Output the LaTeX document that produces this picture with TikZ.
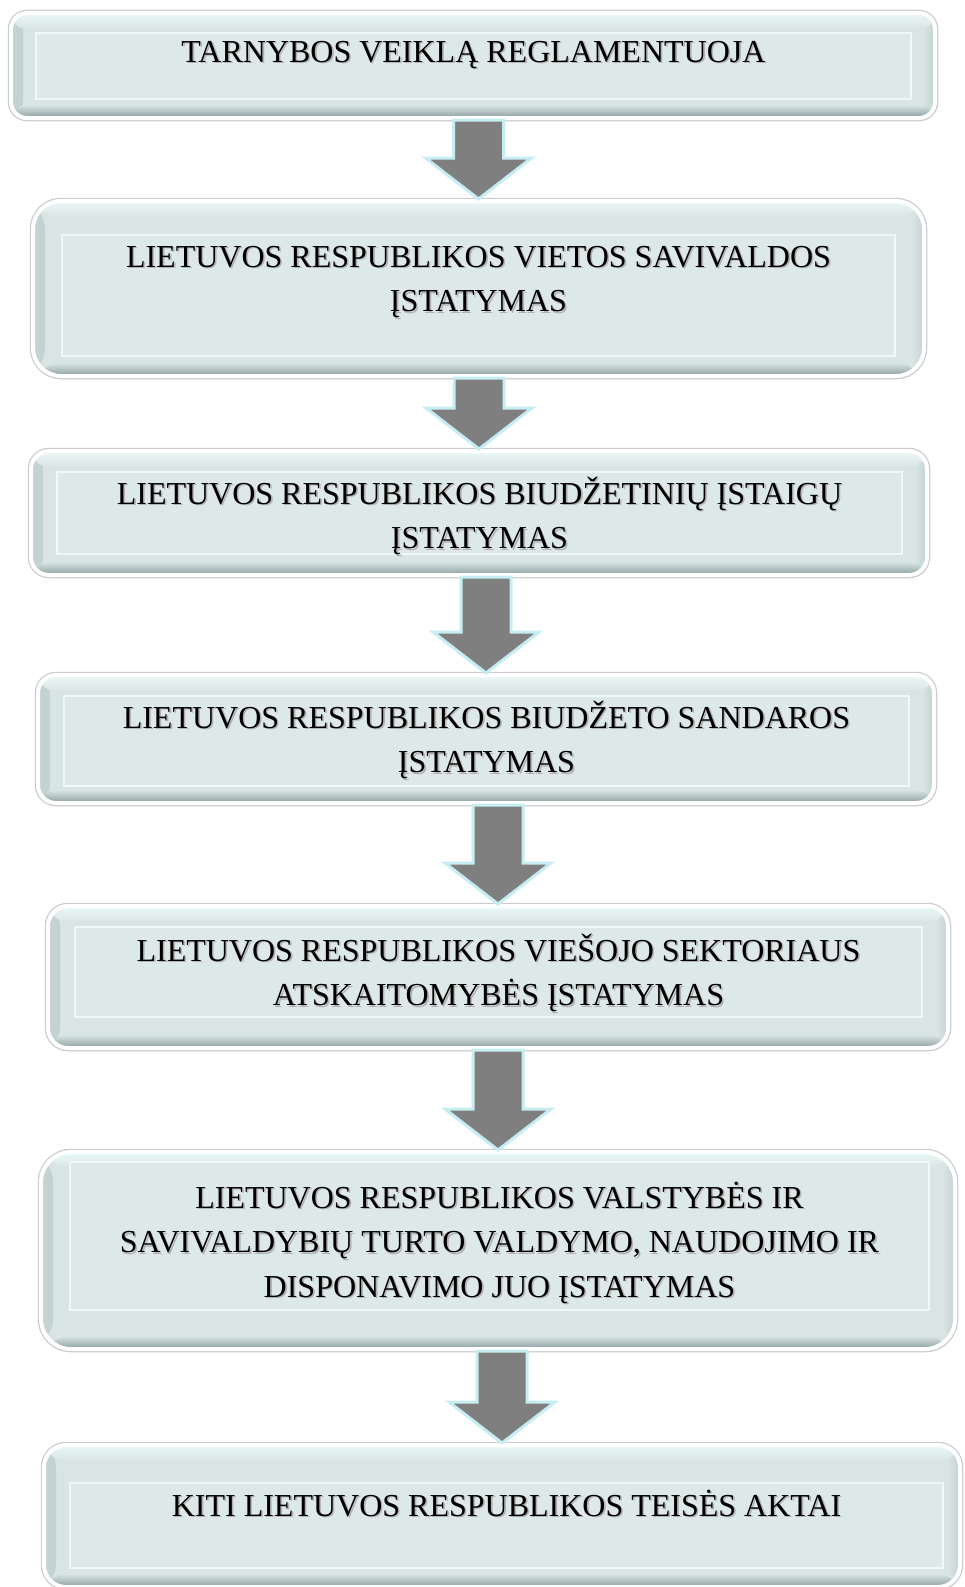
\documentclass[tikz,border=0pt]{standalone}
\usepackage{fontspec}
\setmainfont{Liberation Serif}
\usetikzlibrary{positioning, calc, shadows}

\definecolor{boxfill}{HTML}{D9E4E4}
\definecolor{boxtop}{HTML}{ECF9F9}
\definecolor{boxedge}{HTML}{8C9E9E}
\definecolor{boxside}{HTML}{C4D2D2}
\definecolor{framefill}{HTML}{DDE8E8}
\definecolor{frameline}{HTML}{EEF8F8}
\definecolor{arrgray}{HTML}{7F7F7F}
\definecolor{arrrim}{HTML}{C6EEF2}

% text with a soft shadow, as in the original
\newcommand{\shtext}[1]{\makebox[0pt][l]{\hspace{1.6pt}\raisebox{-1.6pt}{\color{black!30}#1}}#1}

\begin{document}
\begin{tikzpicture} [x = 1pt, y = -1pt,
    lawbox/.style = {rectangle, rounded corners = #1, draw = white, line width = 4pt, fill = boxfill,
        drop shadow = {opacity = 0.25, shadow xshift = 1.5pt, shadow yshift = -3pt},
        preaction = {draw = black!20, line width = 6.5pt},
        path picture = {
            \shade [left color = boxside, right color = boxfill] (path picture bounding box.south west) rectangle ([xshift = 12pt]path picture bounding box.north west);
            \shade [left color = boxfill, right color = boxside] ([xshift = -12pt]path picture bounding box.south east) rectangle (path picture bounding box.north east);
            \shade [top color = boxtop, bottom color = boxfill] (path picture bounding box.north west) rectangle ([yshift = -16pt]path picture bounding box.north east);
            \shade [top color = boxfill, bottom color = boxedge] ([yshift = 13pt]path picture bounding box.south west) rectangle (path picture bounding box.south east);
        }},
    lawbox/.default = 18pt,
    lawframe/.style = {rectangle, draw = frameline, line width = 1.2pt, fill = framefill},
    lawtext/.style = {inner sep = 0pt, align = center, font = \fontsize{32}{44.5}\selectfont},
    downarr/.style = {fill = arrgray, draw = arrrim, line width = 3pt, line join = miter,
        to path = {let \p1 = (\tikztostart.south), \p2 = (\tikztotarget.north) in
            (\x2-25pt,\y1) -- (\x2+25pt,\y1) -- (\x2+25pt,\y2+41pt) -- (\x2+53pt,\y2+41pt)
            -- (\x2,\y2) -- (\x2-53pt,\y2+41pt) -- (\x2-25pt,\y2+41pt) -- cycle}}]
    \useasboundingbox (0,0) rectangle (964,1587);

    % boxes
    \node (b1) [lawbox = 16pt, minimum width = 924pt, minimum height = 105pt] at (473,65.5) {};
    \node (f1) [lawframe, minimum width = 875pt, minimum height = 66pt] at (473.5,66) {};
    \node (t1) [lawtext, below = 2pt of f1.north] {\vphantom{Ž}\shtext{TARNYBOS VEIKLĄ REGLAMENTUOJA}};

    \node (b2) [lawbox = 28pt, minimum width = 891pt, minimum height = 175pt] at (478.5,288.5) {};
    \node (f2) [lawframe, minimum width = 833pt, minimum height = 121pt] at (478.5,295.5) {};
    \node (t2) [lawtext, below = 5pt of f2.north] {\vphantom{Ž}\shtext{LIETUVOS RESPUBLIKOS VIETOS SAVIVALDOS}\\\shtext{ĮSTATYMAS}};

    \node (b3) [lawbox, minimum width = 896pt, minimum height = 124pt] at (479,513) {};
    \node (f3) [lawframe, minimum width = 845pt, minimum height = 82pt] at (479.5,513) {};
    \node (t3) [lawtext, below = 5pt of f3.north] {\vphantom{Ž}\shtext{LIETUVOS RESPUBLIKOS BIUDŽETINIŲ ĮSTAIGŲ}\\\shtext{ĮSTATYMAS}};

    \node (b4) [lawbox, minimum width = 896pt, minimum height = 128pt] at (486,739) {};
    \node (f4) [lawframe, minimum width = 845pt, minimum height = 90pt] at (486.5,741) {};
    \node (t4) [lawtext, below = 5pt of f4.north] {\vphantom{Ž}\shtext{LIETUVOS RESPUBLIKOS BIUDŽETO SANDAROS}\\\shtext{ĮSTATYMAS}};

    \node (b5) [lawbox = 20pt, minimum width = 900pt, minimum height = 142pt] at (498,977) {};
    \node (f5) [lawframe, minimum width = 847pt, minimum height = 90pt] at (498.5,972) {};
    \node (t5) [lawtext, below = 7pt of f5.north] {\vphantom{Ž}\shtext{LIETUVOS RESPUBLIKOS VIEŠOJO SEKTORIAUS}\\\shtext{ATSKAITOMYBĖS ĮSTATYMAS}};

    \node (b6) [lawbox = 30pt, minimum width = 914pt, minimum height = 197pt] at (498,1250.5) {};
    \node (f6) [lawframe, minimum width = 859pt, minimum height = 148pt] at (499.5,1236) {};
    \node (t6) [lawtext, below = 19pt of f6.north] {\vphantom{Ž}\shtext{LIETUVOS RESPUBLIKOS VALSTYBĖS IR}\\\shtext{SAVIVALDYBIŲ TURTO VALDYMO, NAUDOJIMO IR}\\\shtext{DISPONAVIMO JUO ĮSTATYMAS}};

    \node (b7) [lawbox = 22pt, minimum width = 916pt, minimum height = 142pt] at (502,1516) {};
    \node (f7) [lawframe, minimum width = 873pt, minimum height = 85pt] at (506.5,1525.5) {};
    \node (t7) [lawtext, below = 6pt of f7.north] {\vphantom{Ž}\shtext{KITI LIETUVOS RESPUBLIKOS TEISĖS AKTAI}};

    % arrows
    \path (b1) edge [downarr] (b2);
    \path (b2) edge [downarr] (b3);
    \path (b3) edge [downarr] (b4);
    \path (b4) edge [downarr] (b5);
    \path (b5) edge [downarr] (b6);
    \path (b6) edge [downarr] (b7);
\end{tikzpicture}
\end{document}
